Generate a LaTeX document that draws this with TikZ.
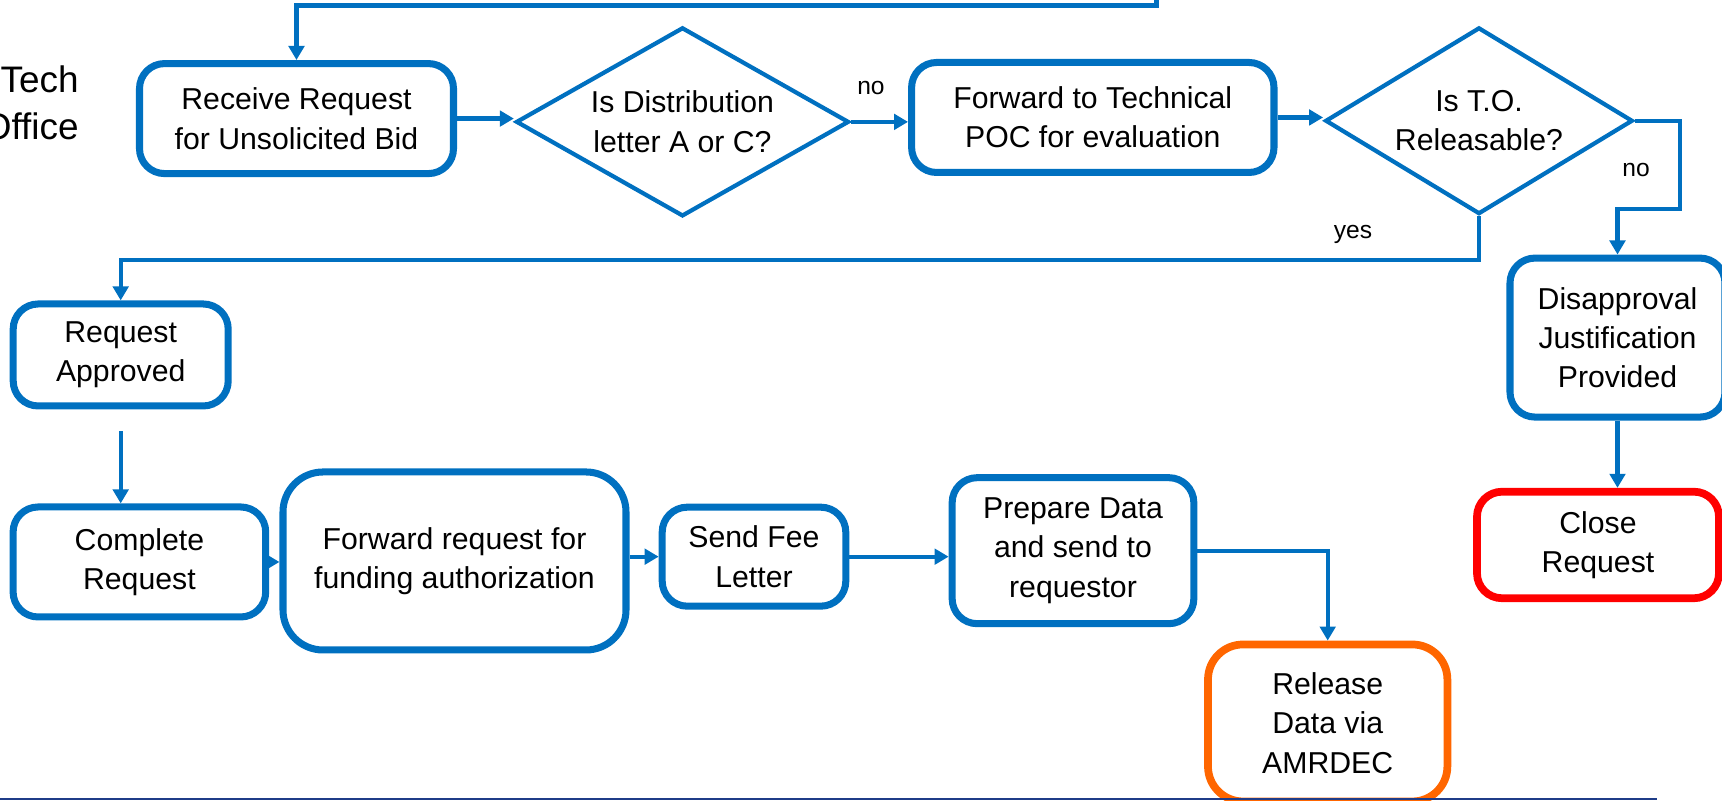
\documentclass[tikz,border=0pt]{standalone}
\usepackage{fontspec}
\setmainfont{Liberation Sans}
\usepackage{tikz}
\usetikzlibrary{shapes.geometric,arrows.meta}
\definecolor{flowblue}{HTML}{0070C0}
\definecolor{closered}{HTML}{FF0000}
\definecolor{relorange}{HTML}{FF6600}
\definecolor{rulenavy}{HTML}{1F3C88}

\begin{document}
\begin{tikzpicture}[
    font=\fontsize{8.6}{11.2}\selectfont,
    box/.style={draw=flowblue, line width=2pt, rounded corners=0.25cm, align=center, inner sep=0pt},
    decide/.style={draw=flowblue, line width=1.2pt, diamond, align=center, inner sep=0pt},
    flow/.style={draw=flowblue, line width=1.2pt, -{Triangle[length=4pt,width=4.4pt]}},
    lbl/.style={font=\fontsize{7}{8}\selectfont}]
    \useasboundingbox (0,0) rectangle (17.22,8.01);

    \node[anchor=east, align=right, font=\fontsize{10.5}{13.4}\selectfont] (tech) at (0.91,6.98) {Tech\\Office};

    \node[box, minimum width=3.14cm,  minimum height=1.10cm] (recv)   at ( 2.965,6.824) {Receive Request\\for Unsolicited Bid};
    \node[decide, minimum width=3.33cm, minimum height=1.89cm, aspect=1.76] (dist) at ( 6.825,6.791) {Is Distribution\\letter A or C?};
    \node[box, minimum width=3.624cm, minimum height=1.10cm] (fwdpoc) at (10.928,6.835) {Forward to Technical\\POC for evaluation};
    \node[decide, minimum width=3.075cm, minimum height=1.867cm, aspect=1.65] (relq) at (14.79,6.802) {Is T.O.\\Releasable?};
    \node[box, minimum width=2.15cm,  minimum height=1.59cm] (disapp) at (16.175,4.634) {Disapproval\\Justification\\Provided};
    \node[box, draw=closered, line width=2.2pt, minimum width=2.42cm, minimum height=1.065cm] (close) at (15.98,2.56) {Close\\Request};

    \node[box, minimum width=2.15cm,  minimum height=1.02cm] (appr)   at ( 1.207,4.46) {Request\\Approved};
    \node[box, minimum width=2.526cm, minimum height=1.10cm] (compl)  at ( 1.394,2.39) {Complete\\Request};
    \node[box, rounded corners=0.4cm, minimum width=3.43cm, minimum height=1.78cm] (fund) at ( 4.545,2.40) {Forward request for\\funding authorization};
    \node[box, minimum width=1.836cm, minimum height=0.99cm] (fee)    at ( 7.54,2.443) {Send Fee\\Letter};
    \node[box, minimum width=2.417cm, minimum height=1.46cm] (prep)   at (10.73,2.503) {Prepare Data\\and send to\\requestor};
    \node[box, draw=relorange, line width=2.2pt, rounded corners=0.35cm, minimum width=2.394cm, minimum height=1.57cm] (rel) at (13.277,0.78) {Release\\ Data via\\AMRDEC};

    \node[lbl] (no1)  at ( 8.71,7.13) {no};
    \node[lbl] (no2)  at (16.36,6.31) {no};
    \node[lbl] (yes1) at (13.53,5.67) {yes};

    \coordinate (loop)    at (11.565,8.2);
    \coordinate (yesbend) at (1.207,5.41);
    \coordinate (nobend)  at (16.8,5.923);

    \draw[flow] (loop) -- (11.565,7.955) -| (recv.north);
    \draw[flow] (recv.east) -- (recv.east -| dist.west);
    \draw[flow] (dist.east) -- (dist.east -| fwdpoc.west);
    \draw[flow] (fwdpoc.east) -- (fwdpoc.east -| relq.west);
    \draw[flow] (relq.east) -| (nobend) -| (disapp.north);
    \draw[flow] (relq.south) |- (yesbend) -- (appr.north);
    \draw[flow] (disapp.south) -- (disapp.south |- close.north);
    \draw[flow, shorten <=0.22cm] (appr.south) -- (appr.south |- compl.north);
    \draw[flow] (compl.east) -- (compl.east -| fund.west);
    \draw[flow] (fee.west -| fund.east) -- (fee.west);
    \draw[flow] (fee.east) -- (fee.east -| prep.west);
    \draw[flow] (prep.east) -| (rel.north);

    \draw[rulenavy, line width=0.8pt] (0,0.02) -- (16.57,0.02);
  \end{tikzpicture}
\end{document}
